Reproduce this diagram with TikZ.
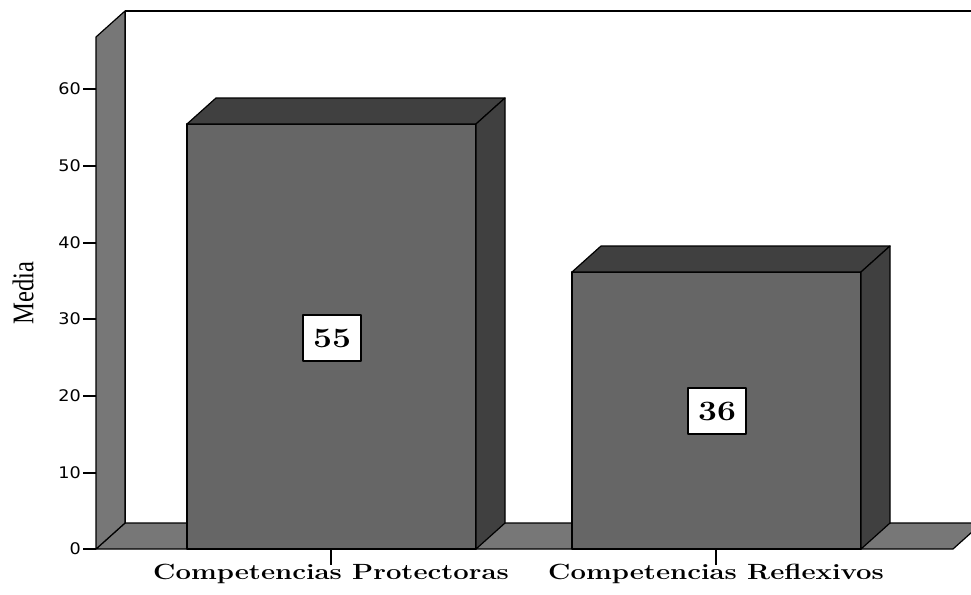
\documentclass[tikz,border=0pt]{standalone}
\usepackage{fontspec}
\newfontfamily\ticksf{DejaVu Sans}
\newfontfamily\mediaf{Liberation Serif}
\definecolor{wallc}{HTML}{777777}
\definecolor{frontc}{HTML}{666666}
\definecolor{darkc}{HTML}{404040}
\begin{document}
\begin{tikzpicture}[x=1pt,y=-1pt,line join=round,
  edge/.style={draw=black,line width=1.2pt},
  ticklab/.style={anchor=east,inner sep=0pt,font=\ticksf\fontsize{16}{16}\selectfont,xscale=1.1},
  catlab/.style={inner sep=0pt,font=\bfseries\fontsize{22}{22}\selectfont,xscale=1.25},
  vallab/.style={draw=black,line width=1.2pt,fill=white,minimum width=58pt,minimum height=46pt,inner sep=0pt},
  valtxt/.style={inner sep=0pt,font=\bfseries\fontsize{28}{28}\selectfont,xscale=1.2}]
\useasboundingbox (0,0) rectangle (971,594);
\begin{scope}
\clip (0,0) rectangle (971,594);
\draw[edge] (125,11) -- (990,11);
\draw[edge] (125,11) -- (125,523);
\filldraw[edge,fill=wallc] (96,549) -- (953,549) -- (982,523) -- (125,523) -- cycle;
\filldraw[edge,fill=wallc] (96,549) -- (96,37) -- (125,11) -- (125,523) -- cycle;
\end{scope}
% ticks
\foreach \v/\y in {0/549,10/473,20/396,30/319,40/243,50/166,60/89}{
  \draw[line width=1.2pt] (83,\y) -- (96,\y);
  \node[ticklab] (t\v) at (81,\y) {\v};
}
\node[rotate=90,inner sep=0pt,font=\mediaf\fontsize{30}{30}\selectfont,xscale=0.82] (media) at (23,293) {Media};
% bar 1
\filldraw[edge,fill=frontc] (187,124) rectangle (476,549);
\filldraw[edge,fill=darkc] (187,124) -- (216,98) -- (505,98) -- (476,124) -- cycle;
\filldraw[edge,fill=darkc] (476,124) -- (505,98) -- (505,523) -- (476,549) -- cycle;
% bar 2
\filldraw[edge,fill=frontc] (572,272) rectangle (861,549);
\filldraw[edge,fill=darkc] (572,272) -- (601,246) -- (890,246) -- (861,272) -- cycle;
\filldraw[edge,fill=darkc] (861,272) -- (890,246) -- (890,523) -- (861,549) -- cycle;
% value labels
\node[vallab] (v1) at (332,338) {};
\node[valtxt] (v1t) at (v1.center) {55};
\node[vallab] (v2) at (717,411) {};
\node[valtxt] (v2t) at (v2.center) {36};
% category ticks and labels
\draw[line width=1.2pt] (331,549) -- (331,565);
\draw[line width=1.2pt] (716,549) -- (716,565);
\node[catlab] (c1) at (331,574) {Competencias Protectoras};
\node[catlab] (c2) at (716,574) {Competencias Reflexivos};
\end{tikzpicture}
\end{document}
